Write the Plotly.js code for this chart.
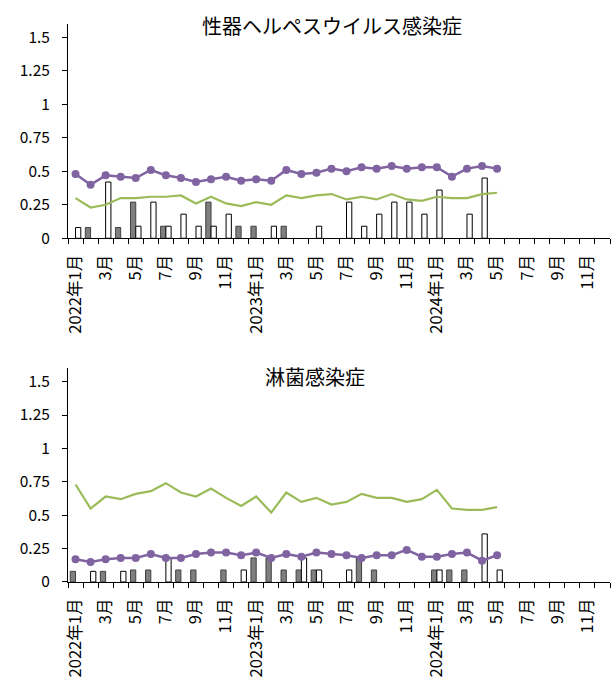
<!DOCTYPE html>
<html>
<head>
<meta charset="utf-8">
<script src="https://cdn.plot.ly/plotly-3.0.1.min.js"></script>
<style>
html,body{margin:0;padding:0;background:#fff;}
#chart{width:616px;height:681px;}
</style>
</head>
<body>
<div id="chart"></div>
<script>
// Month index 0 = 2022年1月 ... 35 = 2024年12月
const monthIdx = Array.from({length: 29}, (_, i) => i); // data through 2024年5月
const tickIdx = [0,2,4,6,8,10,12,14,16,18,20,22,24,26,28,30,32,34];
const tickLabels = ["2022年1月","3月","5月","7月","9月","11月",
                    "2023年1月","3月","5月","7月","9月","11月",
                    "2024年1月","3月","5月","7月","9月","11月"];
const boundaryIdx = Array.from({length: 37}, (_, i) => i - 0.5);

const titleTop = "性器ヘルペスウイルス感染症";
const titleBottom = "淋菌感染症";

// 性器ヘルペスウイルス感染症
const herpesGray = [null,0.08,null,0.08,0.27,null,0.09,null,null,0.27,null,0.09,0.09,null,0.09,null,null,null,null,null,null,null,null,null,null,null,null,null,null];
const herpesWhite = [0.08,null,0.42,null,0.09,0.27,0.09,0.18,0.09,0.09,0.18,null,null,0.09,null,null,0.09,null,0.27,0.09,0.18,0.27,0.27,0.18,0.36,null,0.18,0.45,null];
const herpesPurple = [0.48,0.40,0.47,0.46,0.45,0.51,0.47,0.45,0.42,0.44,0.46,0.43,0.44,0.43,0.51,0.48,0.49,0.52,0.50,0.53,0.52,0.54,0.52,0.53,0.53,0.46,0.52,0.54,0.52];
const herpesGreen = [0.30,0.23,0.25,0.30,0.30,0.31,0.31,0.32,0.26,0.31,0.26,0.24,0.27,0.25,0.32,0.30,0.32,0.33,0.29,0.31,0.29,0.33,0.29,0.28,0.31,0.30,0.30,0.33,0.34];

// 淋菌感染症
const gonoGray = [0.08,null,0.08,null,0.09,0.09,null,0.09,0.09,null,0.09,null,0.18,0.18,0.09,0.09,0.09,null,null,0.18,0.09,null,null,null,0.09,0.09,0.09,null,null];
const gonoWhite = [null,0.08,null,0.08,null,null,0.18,null,null,null,null,0.09,null,null,null,0.18,0.09,null,0.09,null,null,null,null,null,0.09,null,null,0.36,0.09];
const gonoPurple = [0.17,0.15,0.17,0.18,0.18,0.21,0.18,0.18,0.21,0.22,0.22,0.20,0.22,0.18,0.21,0.19,0.22,0.21,0.20,0.18,0.20,0.20,0.24,0.19,0.19,0.21,0.22,0.16,0.20];
const gonoGreen = [0.73,0.55,0.64,0.62,0.66,0.68,0.74,0.67,0.64,0.70,0.63,0.57,0.64,0.52,0.67,0.60,0.63,0.58,0.60,0.66,0.63,0.63,0.60,0.62,0.69,0.55,0.54,0.54,0.56];

const yTickVals = [0,0.25,0.5,0.75,1,1.25,1.5];
const yTickText = ["0","0.25","0.5","0.75","1","1.25","1.5"];

const GRAY = '#7f7f7f', PURPLE = '#8064A2', GREEN = '#9BBB59';
const FONT = '"Noto Sans CJK JP", "Noto Sans", sans-serif';

function traces(gray, white, purple, green, xa, ya) {
  return [
    {type:'bar', x: monthIdx, y: gray, xaxis: xa, yaxis: ya,
     marker:{color: GRAY, line:{color:'#404040', width:1}}, hoverinfo:'skip'},
    {type:'bar', x: monthIdx, y: white, xaxis: xa, yaxis: ya,
     marker:{color:'#ffffff', line:{color:'#000000', width:1}}, hoverinfo:'skip'},
    {type:'scatter', mode:'lines', x: monthIdx, y: green, xaxis: xa, yaxis: ya,
     line:{color: GREEN, width:2.2}, hoverinfo:'skip'},
    {type:'scatter', mode:'lines+markers', x: monthIdx, y: purple, xaxis: xa, yaxis: ya,
     line:{color: PURPLE, width:2.5}, marker:{color: PURPLE, size:8}, hoverinfo:'skip'}
  ];
}

const data = [].concat(
  traces(herpesGray, herpesWhite, herpesPurple, herpesGreen, 'x', 'y'),
  traces(gonoGray, gonoWhite, gonoPurple, gonoGreen, 'x2', 'y2')
);

function xAxis(anchor) {
  return {
    anchor: anchor, range:[-0.5, 35.5], showgrid:false, zeroline:false,
    showline:true, linecolor:'#000', linewidth:1,
    tickmode:'array', tickvals: tickIdx, ticktext: tickLabels,
    ticks:'', tickangle:-90, ticklabelstandoff: 9,
    tickfont:{family: FONT, size:16.5, color:'#000'},
    minor:{tickmode:'array', tickvals: boundaryIdx, ticks:'outside', ticklen:5, tickwidth:1, tickcolor:'#000', showgrid:false}
  };
}
function yAxis(anchor, domain) {
  return {
    anchor: anchor, domain: domain, range:[0, 1.6], showgrid:false, zeroline:false,
    showline:true, linecolor:'#000', linewidth:1,
    tickmode:'array', tickvals: yTickVals, ticktext: yTickText,
    ticks:'outside', ticklen:5, tickwidth:1, tickcolor:'#000', ticklabelstandoff: 9,
    tickfont:{family: FONT, size:15.5, color:'#000'}
  };
}

const layout = {
  width:616, height:681,
  margin:{l:68, r:6, t:24, b:99},
  paper_bgcolor:'#fff', plot_bgcolor:'rgba(0,0,0,0)',
  showlegend:false, barmode:'group', bargap:0.3, bargroupgap:0,
  xaxis: xAxis('y'),
  yaxis: yAxis('x', [0.616, 1]),
  xaxis2: xAxis('y2'),
  yaxis2: yAxis('x2', [0, 0.383]),
  font:{family: FONT},
  annotations:[
    {text: titleTop, xref:'paper', yref:'paper', x:0.4865, y:0.998, xanchor:'center', yanchor:'middle',
     showarrow:false, font:{family: FONT, size:20, color:'#000'}},
    {text: titleBottom, xref:'paper', yref:'paper', x:0.455, y:0.369, xanchor:'center', yanchor:'middle',
     showarrow:false, font:{family: FONT, size:20, color:'#000'}}
  ]
};

Plotly.newPlot('chart', data, layout, {staticPlot:true, displayModeBar:false});
</script>
</body>
</html>
